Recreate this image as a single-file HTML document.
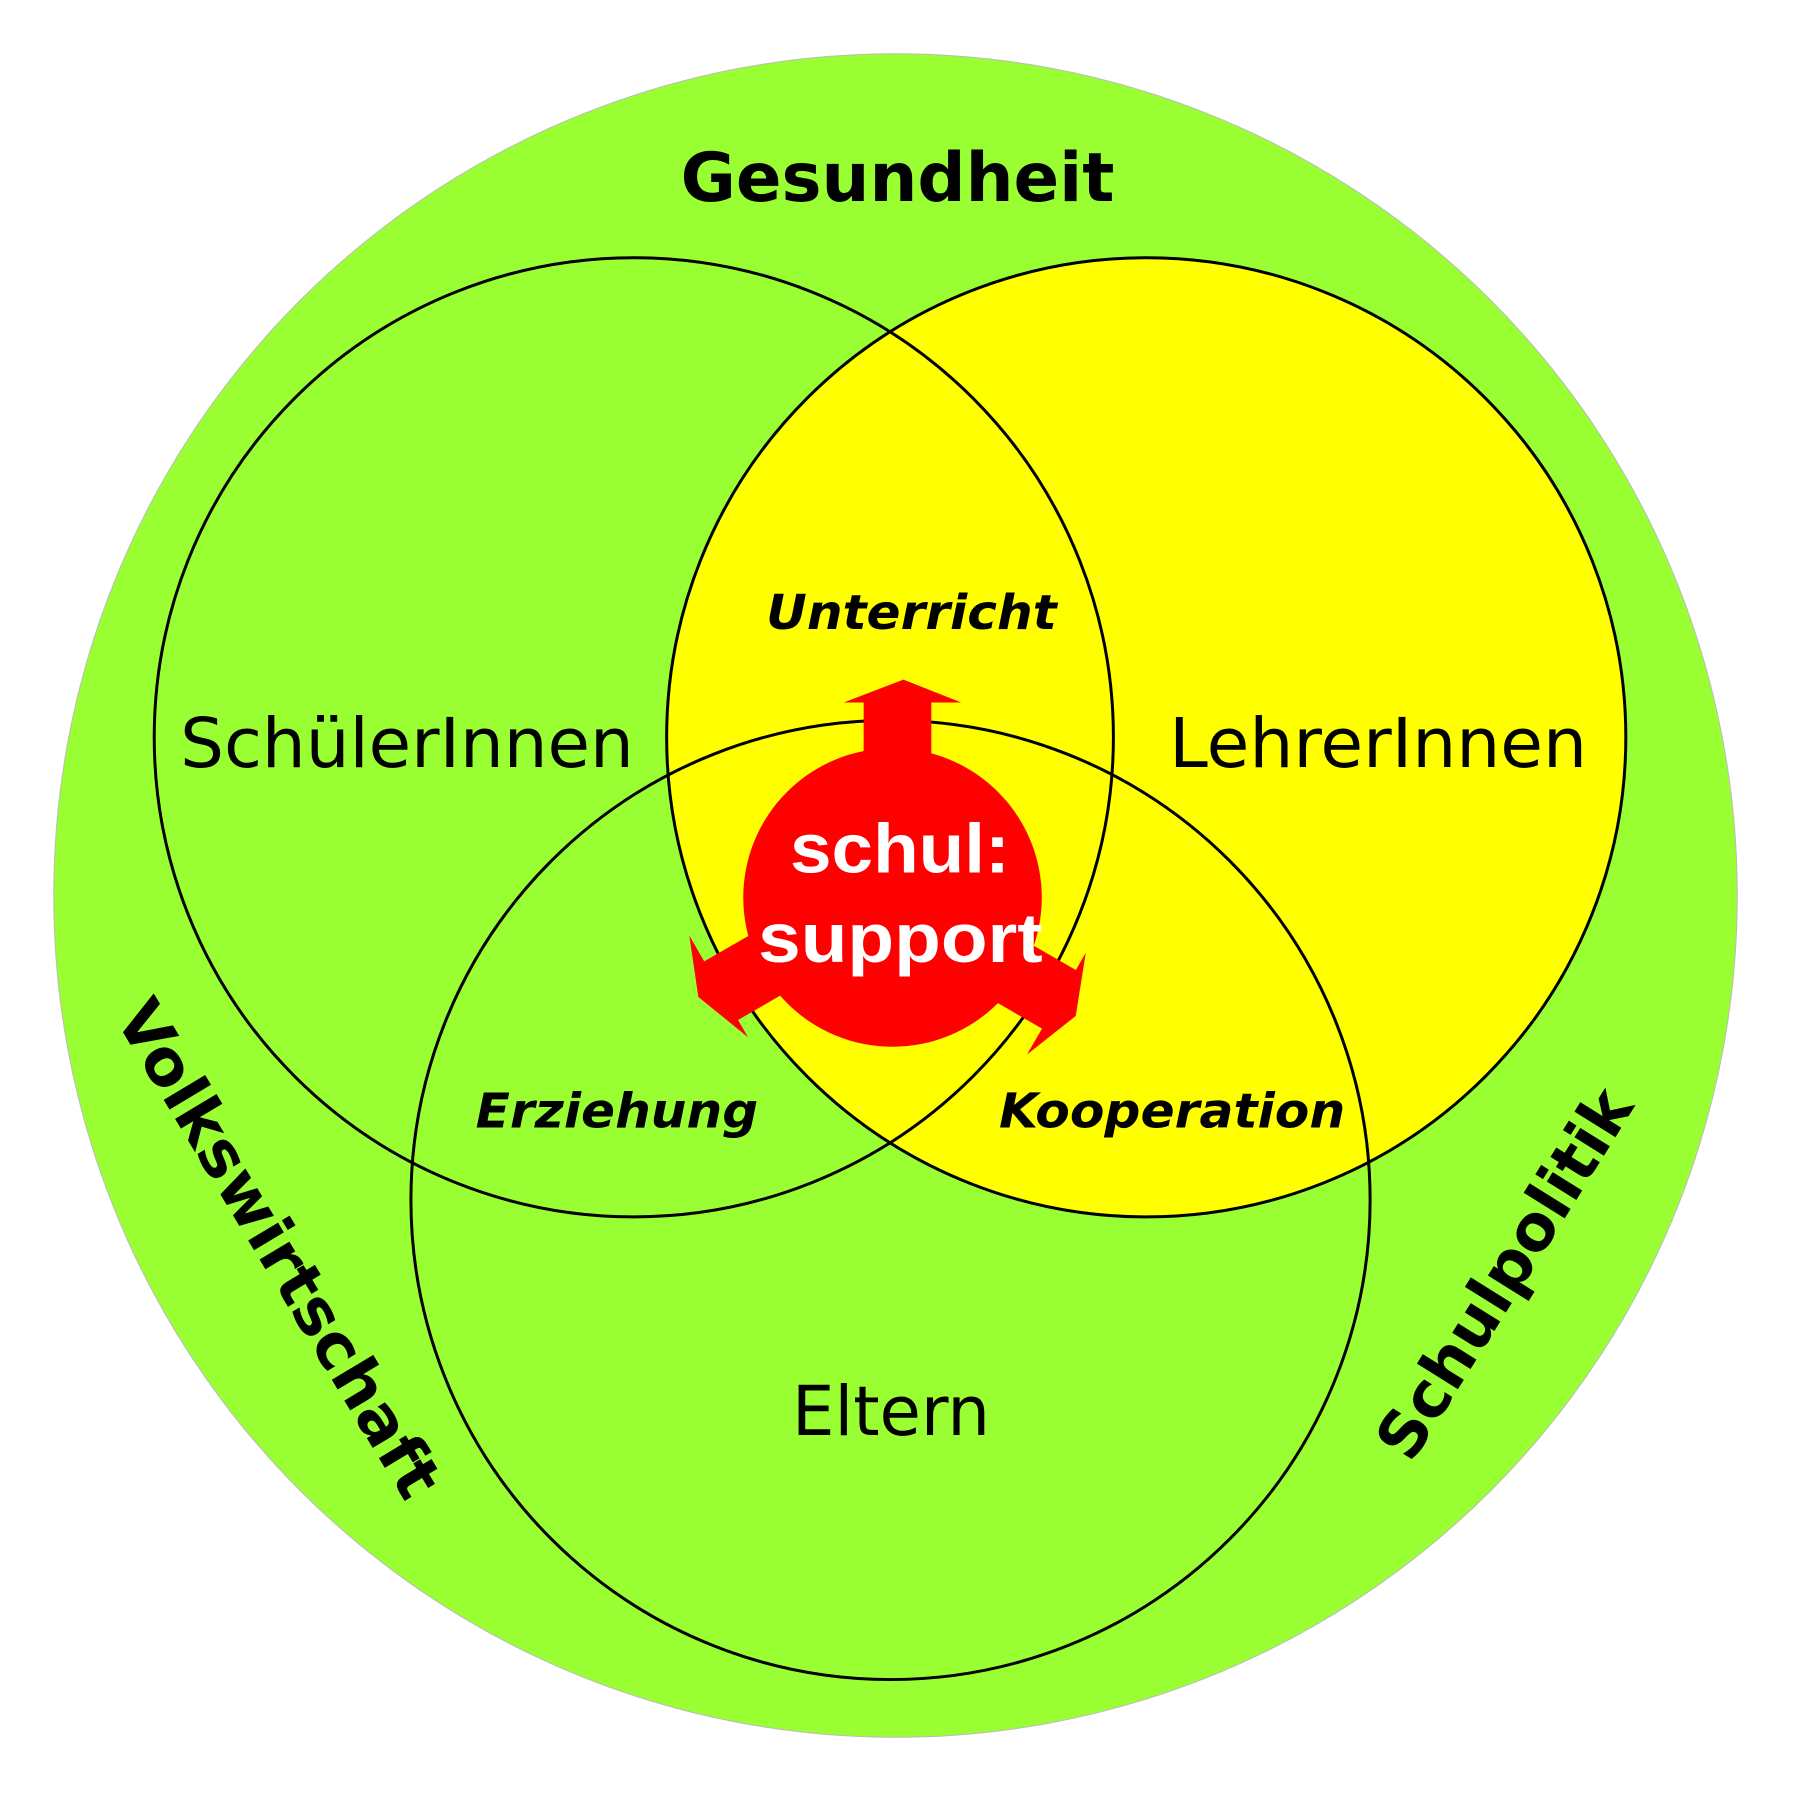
<!DOCTYPE html>
<html><head><meta charset="utf-8"><style>html,body{margin:0;padding:0;background:#fff}svg{display:block}</style></head>
<body>
<svg width="1800" height="1800" viewBox="0 0 1800 1800" xmlns="http://www.w3.org/2000/svg" font-family="'DejaVu Sans','Liberation Sans',sans-serif">
<g transform="scale(0.995)">
<circle cx="900" cy="900" r="846" fill="#99ff33" stroke="#bbb" stroke-width="1"/>
<circle cx="1152" cy="741" r="482" fill="#ffff00"/>
<circle cx="637" cy="741" r="482" fill="none" stroke="#000" stroke-width="3"/>
<circle cx="1152" cy="741" r="482" fill="none" stroke="#000" stroke-width="3"/>
<circle cx="895" cy="1206" r="482" fill="none" stroke="#000" stroke-width="3"/>
<g fill="#ff0000">
<circle cx="897" cy="902" r="150"/>
<g id="ar"><path d="M868,780 L868,706 L848,706 L908,683 L966,706 L936,706 L936,780 Z"/></g>
<use href="#ar" transform="rotate(120 897 902)"/>
<use href="#ar" transform="rotate(-120 897 902)"/>
</g>
<g font-weight="bold" fill="#000">
<text x="902" y="202" font-size="68" text-anchor="middle" textLength="436" lengthAdjust="spacingAndGlyphs">Gesundheit</text>
</g>
<g font-size="69" fill="#000">
<text x="181" y="771" textLength="456" lengthAdjust="spacingAndGlyphs">SchülerInnen</text>
<text x="1175" y="771" textLength="420" lengthAdjust="spacingAndGlyphs">LehrerInnen</text>
<text x="796" y="1442" textLength="199" lengthAdjust="spacingAndGlyphs">Eltern</text>
</g>
<g font-size="48" font-weight="bold" font-style="italic" fill="#000">
<text x="770" y="632" textLength="292" lengthAdjust="spacingAndGlyphs">Unterricht</text>
<text x="478" y="1133" textLength="284" lengthAdjust="spacingAndGlyphs">Erziehung</text>
<text x="1004" y="1133" textLength="348" lengthAdjust="spacingAndGlyphs">Kooperation</text>
</g>
<g font-size="70" font-weight="bold" fill="#fff" font-family="'Liberation Sans',sans-serif">
<text x="794" y="877" textLength="221" lengthAdjust="spacingAndGlyphs">schul:</text>
<text x="762" y="967" textLength="286" lengthAdjust="spacingAndGlyphs">support</text>
</g>
<g font-size="64" font-weight="bold" fill="#000">
<text transform="translate(280,1255) rotate(59)" text-anchor="middle" y="22" textLength="570" lengthAdjust="spacingAndGlyphs">Volkswirtschaft</text>
<text transform="translate(1512,1280) rotate(-58)" text-anchor="middle" y="22" textLength="425" lengthAdjust="spacingAndGlyphs">Schulpolitik</text>
</g>
</g>
</svg>
</body></html>
